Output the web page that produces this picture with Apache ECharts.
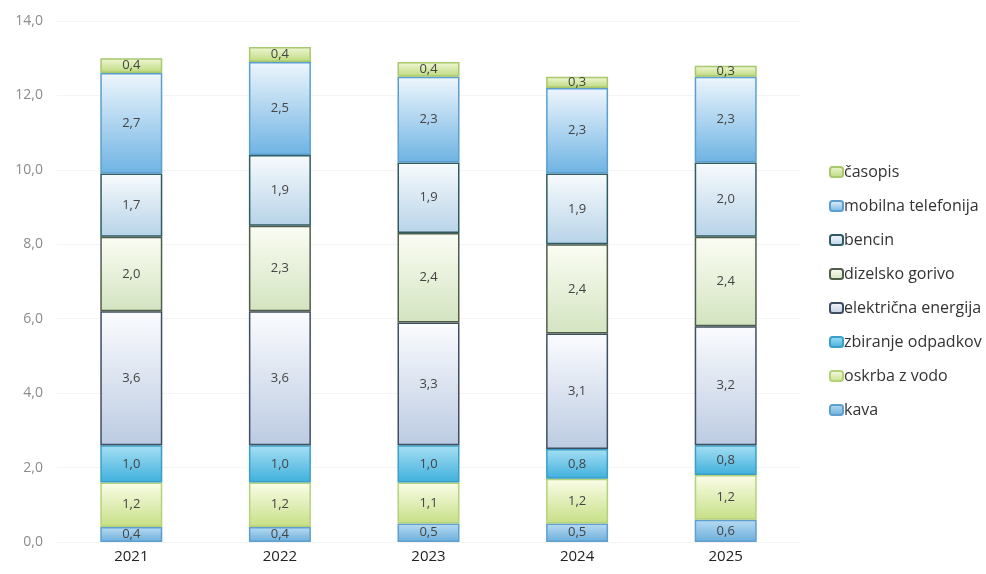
<!DOCTYPE html>
<html>
<head>
<meta charset="utf-8">
<script src="https://cdn.jsdelivr.net/npm/echarts@6/dist/echarts.min.js"></script>
<style>
  html, body { margin: 0; padding: 0; background: #fff; }
  #main { width: 986px; height: 574px; }
</style>
</head>
<body>
<div id="main"></div>
<script>
// leta
const years = ['2021', '2022', '2023', '2024', '2025']

// od spodaj navzgor
const kava = [0.4, 0.4, 0.5, 0.5, 0.6]
const oskrbaZVodo = [1.2, 1.2, 1.1, 1.2, 1.2]
const zbiranjeOdpadkov = [1.0, 1.0, 1.0, 0.8, 0.8]
const elektricnaEnergija = [3.6, 3.6, 3.3, 3.1, 3.2]
const dizelskoGorivo = [2.0, 2.3, 2.4, 2.4, 2.4]
const bencin = [1.7, 1.9, 1.9, 1.9, 2.0]
const mobilnaTelefonija = [2.7, 2.5, 2.3, 2.3, 2.3]
const casopis = [0.4, 0.4, 0.4, 0.3, 0.3]

const yTicks = [0, 2, 4, 6, 8, 10, 12, 14]

const fmt = v => v.toFixed(1).replace('.', ',')

function grad(top, bottom) {
  return new echarts.graphic.LinearGradient(0, 0, 0, 1, [
    { offset: 0, color: top },
    { offset: 1, color: bottom }
  ])
}

// ime, podatki, barva zgoraj, barva spodaj, obroba
const seriesDefs = [
  ['kava', kava, '#b9dcf2', '#6aaedc', '#5f9fcf'],
  ['oskrba z vodo', oskrbaZVodo, '#fbfde8', '#c6df86', '#b4d27a'],
  ['zbiranje odpadkov', zbiranjeOdpadkov, '#a6e0f4', '#3fafdc', '#3a9fc8'],
  ['električna energija', elektricnaEnergija, '#fbfcfe', '#bccbe2', '#3e4f63'],
  ['dizelsko gorivo', dizelskoGorivo, '#fbfdf4', '#d3e4c0', '#4f5e4a'],
  ['bencin', bencin, '#f8fbfd', '#b7d3e8', '#2f5c62'],
  ['mobilna telefonija', mobilnaTelefonija, '#eef6fc', '#6eb3e3', '#5a9fcf'],
  ['časopis', casopis, '#f1f8d6', '#bcd97c', '#a8c86c']
]

const chart = echarts.init(document.getElementById('main'))

const option = {
  backgroundColor: '#fff',
  animation: false,
  grid: {
    left: 57,
    right: 186,
    top: 21,
    bottom: 32
  },
  legend: {
    orient: 'vertical',
    left: 829,
    top: 161,
    padding: 0,
    itemWidth: 13,
    itemHeight: 10,
    itemGap: 12,
    textStyle: {
      color: '#333',
      fontSize: 16,
      fontFamily: 'Open Sans',
      lineHeight: 22,
      padding: [0, 0, 0, -4]
    },
    data: seriesDefs.map(d => d[0]).reverse()
  },
  xAxis: {
    type: 'category',
    data: years,
    axisLine: { show: false },
    axisTick: { show: false },
    axisLabel: {
      color: '#222',
      fontSize: 15,
      fontFamily: 'Open Sans',
      margin: 7
    }
  },
  yAxis: {
    type: 'value',
    min: yTicks[0],
    max: yTicks[yTicks.length - 1],
    interval: 2,
    axisLine: { show: false },
    axisTick: { show: false },
    splitLine: { lineStyle: { color: '#f4f4f4', width: 1 } },
    axisLabel: {
      color: '#8c8c8c',
      fontSize: 14,
      fontFamily: 'Open Sans',
      margin: 14,
      align: 'right',
      formatter: v => fmt(v)
    }
  },
  series: seriesDefs.map(d => ({
    name: d[0],
    type: 'bar',
    stack: 'skupaj',
    barWidth: 62,
    data: d[1],
    itemStyle: {
      color: grad(d[2], d[3]),
      borderColor: d[4],
      borderWidth: 1.5
    },
    label: {
      show: true,
      position: 'inside',
      color: '#444',
      fontSize: 13,
      fontFamily: 'Open Sans',
      formatter: p => fmt(p.value)
    }
  }))
}

chart.setOption(option)
</script>
</body>
</html>
